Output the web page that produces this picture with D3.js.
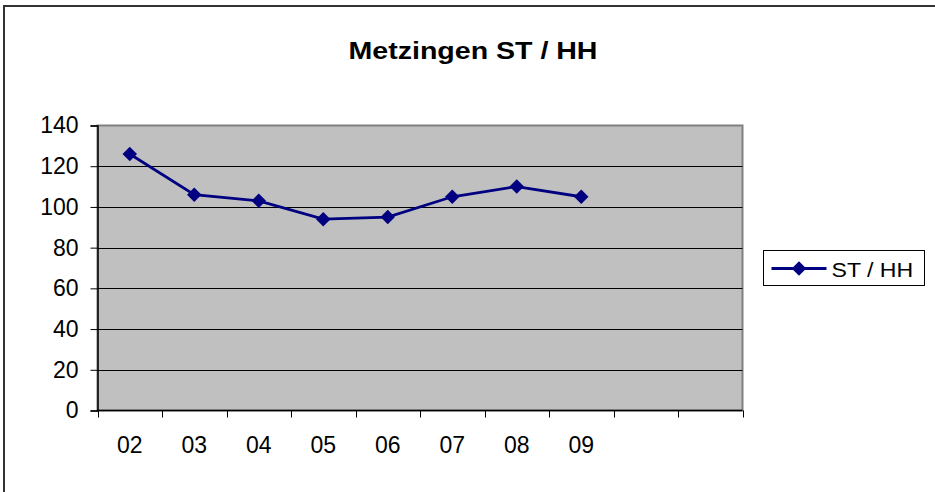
<!DOCTYPE html>
<html>
<head>
<meta charset="utf-8">
<script src="https://cdn.jsdelivr.net/npm/d3@7"></script>
<style>
  body { margin: 0; background: #fff; }
  svg { display: block; font-family: "Liberation Sans", Arial, sans-serif; }
</style>
</head>
<body>
<svg id="chart" width="935" height="492"></svg>
<script>
var CATEGORIES = ['02', '03', '04', '05', '06', '07', '08', '09', '', ' '];
var SERIES_NAME = 'ST / HH';
var VALUES = [126, 106, 103, 94, 95, 105, 110, 105];
var Y_TICKS = [0, 20, 40, 60, 80, 100, 120, 140];
var TITLE = 'Metzingen ST / HH';

var svg = d3.select('#chart');
var plot = {left: 97.5, right: 742.5, top: 125.5, bottom: 410.5};

// outer frame (only top and left edges show in the window)
svg.append('rect')
  .attr('x', 4).attr('y', 6)
  .attr('width', 960).attr('height', 520)
  .attr('fill', 'none')
  .attr('stroke', '#333')
  .attr('stroke-width', 2);

// title is a bit wider than the font, stretch it horizontally
svg.append('text')
  .attr('transform', 'translate(473,59) scale(1.19,1)')
  .attr('text-anchor', 'middle')
  .attr('font-size', 24)
  .attr('font-weight', 'bold')
  .text(TITLE);

var x = d3.scaleBand()
  .domain(CATEGORIES)
  .range([plot.left, plot.right]);

var y = d3.scaleLinear()
  .domain([0, 140])
  .range([plot.bottom, plot.top]);

svg.append('rect')
  .attr('x', plot.left).attr('y', plot.top)
  .attr('width', plot.right - plot.left)
  .attr('height', plot.bottom - plot.top)
  .attr('fill', '#c0c0c0')
  .attr('stroke', '#808080')
  .attr('stroke-width', 2);

svg.append('g').selectAll('line')
  .data(Y_TICKS.filter(d => d > 0 && d < 140))
  .enter()
  .append('line')
  .attr('x1', plot.left).attr('x2', plot.right)
  .attr('y1', d => Math.round(y(d)) + 0.5)
  .attr('y2', d => Math.round(y(d)) + 0.5)
  .attr('stroke', '#000')
  .attr('stroke-width', 1);

// y axis
var yAxis = svg.append('g')
  .attr('transform', 'translate(' + plot.left + ',0)')
  .call(d3.axisLeft(y).tickValues(Y_TICKS).tickSize(7).tickPadding(12));
yAxis.select('.domain').attr('stroke', '#000').attr('stroke-width', 1.5);
yAxis.selectAll('.tick line').attr('stroke', '#000');
yAxis.selectAll('.tick text')
  .attr('font-size', 23)
  .attr('font-family', '"Liberation Sans", Arial, sans-serif')
  .attr('fill', '#000');

// x axis: ticks sit on category boundaries
var bounds = CATEGORIES.map(c => x(c)).concat([plot.right]);
var xg = svg.append('g');
xg.append('line')
  .attr('x1', plot.left).attr('x2', plot.right)
  .attr('y1', plot.bottom).attr('y2', plot.bottom)
  .attr('stroke', '#000').attr('stroke-width', 1.5);
xg.selectAll('.xt')
  .data(bounds)
  .enter()
  .append('line')
  .attr('class', 'xt')
  .attr('x1', d => Math.round(d) + 0.5).attr('x2', d => Math.round(d) + 0.5)
  .attr('y1', plot.bottom).attr('y2', plot.bottom + 7)
  .attr('stroke', '#000');
xg.selectAll('.xl')
  .data(CATEGORIES)
  .enter()
  .append('text')
  .attr('class', 'xl')
  .attr('x', d => x(d) + x.bandwidth() / 2)
  .attr('y', 453)
  .attr('text-anchor', 'middle')
  .attr('font-size', 23)
  .text(d => d.trim());

// series
var pts = VALUES.map((v, i) => ({cat: CATEGORIES[i], v: v}));
var line = d3.line()
  .x(d => x(d.cat) + x.bandwidth() / 2)
  .y(d => y(d.v));

svg.append('path')
  .datum(pts)
  .attr('d', line)
  .attr('fill', 'none')
  .attr('stroke', '#000080')
  .attr('stroke-width', 2.8);

var diamond = d3.symbol().type(d3.symbolSquare).size(105);
svg.selectAll('.marker')
  .data(pts)
  .enter()
  .append('path')
  .attr('class', 'marker')
  .attr('d', diamond)
  .attr('transform', d => 'translate(' + (x(d.cat) + x.bandwidth() / 2) + ',' + y(d.v) + ') rotate(45)')
  .attr('fill', '#000080');

// legend
var lg = svg.append('g').attr('transform', 'translate(763.5,250.5)');
lg.append('rect')
  .attr('width', 161).attr('height', 35)
  .attr('fill', '#fff').attr('stroke', '#000').attr('stroke-width', 1);
lg.append('line')
  .attr('x1', 8).attr('x2', 63)
  .attr('y1', 18).attr('y2', 18)
  .attr('stroke', '#000080').attr('stroke-width', 2.8);
lg.append('path')
  .attr('d', diamond)
  .attr('transform', 'translate(35.5,18) rotate(45)')
  .attr('fill', '#000080');
lg.append('text')
  .attr('transform', 'translate(68,26) scale(1.1,1)')
  .attr('font-size', 21)
  .text(SERIES_NAME);
</script>
</body>
</html>
